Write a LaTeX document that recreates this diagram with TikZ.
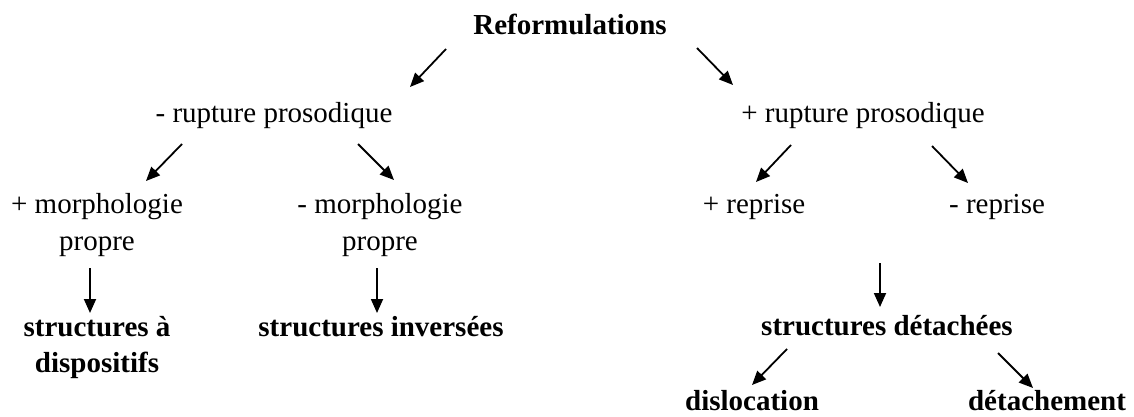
\documentclass[tikz,border=0pt]{standalone}
\usepackage{fontspec}
\setmainfont{Liberation Serif}
\usetikzlibrary{arrows.meta,calc}
\begin{document}
\begin{tikzpicture}[x=1pt,y=-1pt,
  lbl/.style={inner sep=0pt,outer sep=0pt,anchor=base,font=\fontsize{29}{37}\selectfont},
  blbl/.style={lbl,font=\fontsize{29}{36}\selectfont\bfseries},
  two/.style={align=center},
  arr/.style={line width=1.8pt,-{Triangle[length=14pt,width=12pt]}}]
\useasboundingbox (0,0) rectangle (1134,417);
% multi-line nodes: base anchor is the baseline of the last line
\node[blbl] (R)   at (570,35)  {Reformulations};
\node[lbl]  (m)   at (274,123) {- rupture prosodique};
\node[lbl]  (p)   at (863,123) {+ rupture prosodique};
\node[lbl,two]  (pm)  at (97,250)  {+ morphologie\\propre};
\node[lbl,two]  (mm)  at (380,250) {- morphologie\\propre};
\node[lbl]  (pr)  at (754,213) {+ reprise};
\node[lbl]  (mr)  at (997,213) {- reprise};
\node[blbl,two] (sd)  at (97,372)  {structures à\\dispositifs};
\node[blbl] (si)  at (381,336) {structures inversées};
\node[blbl] (sdt) at (887,335) {structures détachées};
\node[blbl] (dis) at (752,410) {dislocation};
\node[blbl] (det) at (1047,410) {détachement};
\coordinate (c9) at (880,263);
\draw[arr] ($(R.base)+(-124,14)$) -- ($(m.base)+(136,-36)$);
\draw[arr] ($(R.base)+(127,13)$) -- ($(p.base)+(-130,-38)$);
\draw[arr] ($(m.base)+(-92,21)$) -- ($(pm.base)+(49,-69)$);
\draw[arr] ($(m.base)+(84,21)$) -- ($(mm.base)+(14,-70)$);
\draw[arr] ($(p.base)+(-72,22)$) -- ($(pr.base)+(2,-31)$);
\draw[arr] ($(p.base)+(69,23)$) -- ($(mr.base)+(-29,-30)$);
\draw[arr] ($(pm.base)+(-7,18)$) -- ($(sd.base)+(-7,-59)$);
\draw[arr] ($(mm.base)+(-3,18)$) -- ($(si.base)+(-4,-23)$);
\draw[arr] (c9) -- ($(sdt.base)+(-7,-28)$);
\draw[arr] ($(sdt.base)+(-100,14)$) -- ($(dis.base)+(0,-25)$);
\draw[arr] ($(sdt.base)+(111,18)$) -- ($(det.base)+(-14,-22)$);
\end{tikzpicture}
\end{document}
